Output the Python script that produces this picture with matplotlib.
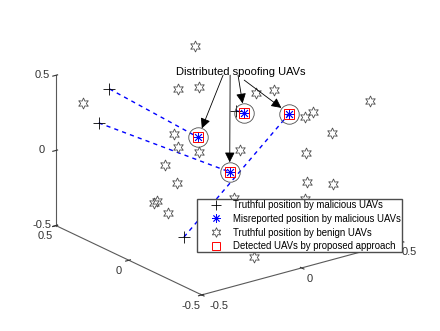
import matplotlib.pyplot as plt
from matplotlib.lines import Line2D
from mpl_toolkits.mplot3d import proj3d

plt.rcParams['font.family'] = ['Liberation Sans', 'DejaVu Sans']
plt.rcParams['axes.unicode_minus'] = False

# malicious UAVs: truthful position and the misreported one
true_x = [-0.32, -0.33, -0.37, 0.14]
true_y = [0.38, 0.44, -0.20, 0.14]
true_z = [0.40, 0.15, -0.30, 0.20]
fake_x = [-0.16, -0.09, 0.39, 0.15]
fake_y = [-0.01, -0.13, 0.12, 0.10]
fake_z = [0.20, 0.00, 0.10, 0.20]

# benign UAVs
ben_x = [0.16, -0.40, -0.05, 0.13, -0.01, -0.19, 0.15, -0.15, 0.42, 0.30, 0.43, 0.42, 0.38,
         0.40, -0.11, 0.38, -0.23, -0.34, -0.16, -0.26, 0.29, 0.41, 0.05, 0.27, -0.13]
ben_y = [0.45, 0.45, 0.28, 0.38, 0.36, 0.09, 0.41, 0.23, 0.39, 0.10, -0.38, 0.05, -0.06,
         -0.16, -0.23, -0.01, 0.04, 0.05, 0.27, 0.06, -0.14, -0.15, 0.03, -0.15, -0.35]
ben_z = [0.48, 0.30, 0.35, 0.25, 0.00, 0.10, -0.20, -0.10, 0.10, 0.30, 0.40, 0.10, 0.20,
         0.10, 0.20, -0.10, -0.10, -0.20, -0.35, -0.30, -0.20, -0.25, -0.30, -0.30, -0.45]

ticks = [-0.5, 0, 0.5]
tick_labels = ['-0.5', '0', '0.5']
labels = ['Truthful position by malicious UAVs',
          'Misreported position by malicious UAVs',
          'Truthful position by benign UAVs',
          'Detected UAVs by proposed approach']

fig = plt.figure(figsize=(4.4, 3.31), dpi=100)
ax = fig.add_axes([0.0097, 0.0088, 1, 1], projection='3d')
ax.set_proj_type('ortho')
ax.view_init(elev=21, azim=-127)
ax.set_box_aspect((1.033, 1, 0.665), zoom=1.125)

# dashed links truthful -> misreported
for i in range(len(true_x)):
    ax.plot([true_x[i], fake_x[i]], [true_y[i], fake_y[i]], [true_z[i], fake_z[i]],
            '--', color='b', lw=1, dashes=(3, 3))

ax.plot(ben_x, ben_y, ben_z, ls='none', marker=(6, 1, 0), ms=8,
        mfc='none', mec='0.3', mew=0.6)
ax.plot(true_x, true_y, true_z, ls='none', marker='+', ms=8, color='k', mew=0.6)
ax.plot(fake_x, fake_y, fake_z, ls='none', marker=(8, 2, 0), ms=7, color='b', mew=0.6)
ax.plot(fake_x, fake_y, fake_z, ls='none', marker='s', ms=7, mfc='none', mec='r', mew=0.7)
ax.plot(fake_x, fake_y, fake_z, ls='none', marker='o', ms=14, mfc='none', mec='0.3', mew=0.6)

ax.set_xlim(-0.5, 0.5)
ax.set_ylim(-0.5, 0.5)
ax.set_zlim(-0.5, 0.5)
for axis in (ax.xaxis, ax.yaxis, ax.zaxis):
    axis.set_ticks(ticks)
    axis.set_ticklabels(tick_labels)
    axis.pane.set_visible(False)
    axis.line.set_color('0.35')
    axis.line.set_linewidth(0.8)
    for t in axis.get_ticklabels():
        t.set_verticalalignment('center')
ax.xaxis.get_ticklabels()[0].set_horizontalalignment('left')
ax.tick_params(labelsize=8, colors='0.2')
ax.xaxis.set_tick_params(pad=-1.5)
ax.yaxis.set_tick_params(pad=-1.5)
ax.zaxis.set_tick_params(pad=-3)
ax.grid(False)

# arrows from the annotation text to the spoofing UAVs
fig.text(0.548, 0.782, 'Distributed spoofing UAVs', ha='center', va='center', fontsize=8)
tails = [(0.507, 0.773), (0.523, 0.773), (0.541, 0.773), (0.555, 0.758)]
order = [0, 1, 3, 2]
M = ax.get_proj()
for tail, k in zip(tails, order):
    px, py, _ = proj3d.proj_transform(fake_x[k], fake_y[k], fake_z[k], M)
    ax.annotate('', xy=(px, py), xycoords='data', xytext=tail, textcoords='figure fraction',
                arrowprops=dict(arrowstyle='-|>,head_length=0.5,head_width=0.25',
                                color='k', lw=0.6, shrinkA=0, shrinkB=7,
                                mutation_scale=12))

handles = [Line2D([], [], ls='none', marker='+', ms=7, color='k', mew=0.6),
           Line2D([], [], ls='none', marker=(8, 2, 0), ms=6, color='b', mew=0.6),
           Line2D([], [], ls='none', marker=(6, 1, 0), ms=7, mfc='none', mec='0.3', mew=0.6),
           Line2D([], [], ls='none', marker='s', ms=6, mfc='none', mec='r', mew=0.7)]
fig.legend(handles, labels, loc='upper left', bbox_to_anchor=(0.448, 0.399),
           borderaxespad=0, fontsize=6.9, frameon=True, fancybox=False, edgecolor='0.3',
           framealpha=1, borderpad=0.1, handlelength=3.77, handletextpad=-0.11,
           labelspacing=0.4)

fig.savefig('out.png', dpi=100)
